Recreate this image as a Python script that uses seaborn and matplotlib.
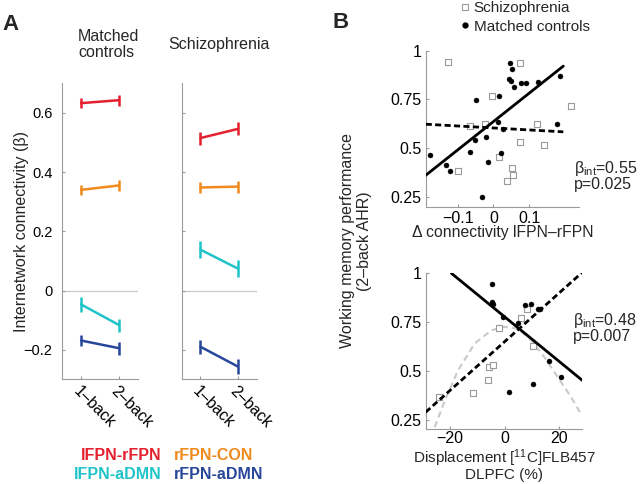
import numpy as np
import pandas as pd
import seaborn as sns
import matplotlib.pyplot as plt
from matplotlib.lines import Line2D

sns.set_theme(style='white')
plt.rcParams['font.family'] = ['Liberation Sans', 'DejaVu Sans']
plt.rcParams['mathtext.default'] = 'regular'

# ---- Panel A: conectividad entre redes (media +- error) ----
pares = ['lFPN-rFPN', 'rFPN-CON', 'lFPN-aDMN', 'rFPN-aDMN']
colores = ['#e4202f', '#f08a1c', '#1fc3c8', '#28479a']
cargas = ['1–back', '2–back']
ctrl_media = [[0.633, 0.643], [0.340, 0.355], [-0.047, -0.117], [-0.169, -0.195]]
ctrl_err = [[0.018, 0.018], [0.018, 0.018], [0.025, 0.022], [0.018, 0.022]]
scz_media = [[0.515, 0.546], [0.348, 0.351], [0.138, 0.074], [-0.190, -0.257]]
scz_err = [[0.022, 0.022], [0.020, 0.020], [0.028, 0.028], [0.024, 0.025]]

# ---- Panel B arriba: delta conectividad vs rendimiento ----
conn_scz_x = [-0.127, -0.098, -0.065, -0.025, -0.005, 0.017, 0.038, 0.051, 0.056,
              0.075, 0.075, 0.123, 0.142, 0.218]
conn_scz_y = [0.940, 0.384, 0.613, 0.624, 0.769, 0.455, 0.330, 0.399, 0.363,
              0.935, 0.531, 0.622, 0.514, 0.717]
conn_ctrl_x = [-0.178, -0.133, -0.121, -0.049, -0.065, -0.051, -0.021, -0.015, -0.031,
               0.016, 0.014, 0.021, 0.026, 0.047, 0.052, 0.045, 0.049, 0.058,
               0.077, 0.092, 0.124, 0.179, 0.187]
conn_ctrl_y = [0.466, 0.416, 0.385, 0.745, 0.481, 0.544, 0.558, 0.431, 0.248,
               0.767, 0.634, 0.473, 0.596, 0.935, 0.906, 0.853, 0.844, 0.812,
               0.836, 0.836, 0.838, 0.622, 0.870]
fit_conn_x = [-0.19, 0.196]
fit_conn_ctrl = [0.361, 0.921]
fit_conn_scz = [0.623, 0.584]

# ---- Panel B abajo: desplazamiento [11C]FLB457 vs rendimiento ----
disp_scz_x = [-24.1, -11.5, -5.9, -5.5, -4.2, -2.1, 5.9, 8.1, 10.5]
disp_scz_y = [0.367, 0.384, 0.455, 0.518, 0.532, 0.720, 0.772, 0.815, 0.626]
disp_ctrl_x = [-4.6, -4.5, -4.4, -0.6, 1.6, 4.8, 7.6, 9.6, 12.4, 13.0, 10.5, 16.4, 20.8]
disp_ctrl_y = [0.943, 0.851, 0.844, 0.774, 0.391, 0.746, 0.840, 0.842, 0.815, 0.815,
               0.434, 0.550, 0.468]
fit_disp_ctrl_x = [-19.4, 28.4]
fit_disp_ctrl_y = [1.0, 0.451]
fit_disp_scz_x = [-28.8, 28.4]
fit_disp_scz_y = [0.288, 1.005]
curva_x = [-25.5, -21.8, -17.0, -10.9, -4.8, 0.0, 4.8, 9.7, 14.5, 19.4, 24.3, 27.9]
curva_y = [0.211, 0.348, 0.502, 0.640, 0.708, 0.725, 0.717, 0.657, 0.571, 0.468, 0.365, 0.279]

fig = plt.figure(figsize=(6.4, 4.84), dpi=100)
W, H = 640, 484


def caja(x0, y0, x1, y1):
    # pixeles -> fraccion de figura
    return [x0 / W, 1 - y1 / H, (x1 - x0) / W, (y1 - y0) / H]


gris = '#9a9a9a'


def estilo_ejes(ax, size, pad=3):
    sns.despine(ax=ax)
    for s in ['left', 'bottom']:
        ax.spines[s].set_color(gris)
        ax.spines[s].set_linewidth(0.8)
    ax.tick_params(left=True, bottom=True, direction='in', length=2.5, width=0.8,
                   color=gris, labelsize=size, pad=pad, labelcolor='black')


def panel_a(ax, medias, errores):
    filas = []
    for par, m in zip(pares, medias):
        for k, v in enumerate(m):
            filas.append({'par': par, 'carga': k + 1, 'beta': v})
    df = pd.DataFrame(filas)
    ax.axhline(0, color='#c8c8c8', lw=0.9, zorder=0)
    sns.lineplot(data=df, x='carga', y='beta', hue='par', palette=colores,
                 hue_order=pares, legend=False, lw=1.8, ax=ax)
    for c, m, e in zip(colores, medias, errores):
        ax.errorbar([1, 2], m, yerr=e, fmt='none', ecolor=c, elinewidth=1.8, capsize=0)
    ax.set_xlim(0.5, 2.5)
    ax.set_ylim(-0.3, 0.7)
    ax.set_xticks([1, 2])
    ax.set_yticks([-0.2, 0, 0.2, 0.4, 0.6])
    ax.set_xlabel('')
    ax.set_ylabel('')
    estilo_ejes(ax, 10.5)
    ax.tick_params(axis='y', pad=7)
    ax.set_xticklabels(cargas, rotation=-45, ha='left', rotation_mode='anchor',
                       fontsize=11.5)


ax1 = fig.add_axes(caja(62, 83.3, 138.3, 379.3))
panel_a(ax1, ctrl_media, ctrl_err)
ax1.set_yticklabels(['−0.2', '0', '0.2', '0.4', '0.6'])

ax2 = fig.add_axes(caja(181.7, 83.3, 256.7, 379.3))
panel_a(ax2, scz_media, scz_err)
ax2.set_yticklabels([])

fig.text(2 / W, 1 - 25 / H, 'A', fontsize=16, fontweight='bold', va='center')
fig.text(78 / W, 1 - 44.5 / H, 'Matched\ncontrols', fontsize=11.5, va='center',
         linespacing=1.15)
fig.text(168 / W, 1 - 44 / H, 'Schizophrenia', fontsize=11.5, va='center')
fig.text(22 / W, 1 - 231 / H, 'Internetwork connectivity (β)', fontsize=11.5,
         rotation=90, ha='center', va='center')

# leyenda de colores
fig.text(161 / W, 1 - 455.7 / H, pares[0], color=colores[0], fontsize=11.5,
         fontweight='bold', ha='right', va='center')
fig.text(174 / W, 1 - 455.7 / H, pares[1], color=colores[1], fontsize=11.5,
         fontweight='bold', ha='left', va='center')
fig.text(162 / W, 1 - 474.3 / H, pares[2], color=colores[2], fontsize=11.5,
         fontweight='bold', ha='right', va='center')
fig.text(174 / W, 1 - 474.3 / H, pares[3], color=colores[3], fontsize=11.5,
         fontweight='bold', ha='left', va='center')

# ---- Panel B ----
lin_disc = (0, (2.2, 1.2))


def puntos(ax, xs, ys, xc, yc):
    sns.scatterplot(x=xs, y=ys, marker='s', s=16, facecolor='white', edgecolor=gris,
                    linewidth=0.8, ax=ax, zorder=2)
    sns.scatterplot(x=xc, y=yc, marker='o', s=13, color='black', edgecolor='black',
                    linewidth=0.3, ax=ax, zorder=3)


ax3 = fig.add_axes(caja(425.7, 50.7, 579, 206.7))
puntos(ax3, conn_scz_x, conn_scz_y, conn_ctrl_x, conn_ctrl_y)
sns.lineplot(x=fit_conn_x, y=fit_conn_ctrl, color='black', lw=2, ax=ax3, zorder=4)
sns.lineplot(x=fit_conn_x, y=fit_conn_scz, color='black', lw=2, linestyle=lin_disc,
             ax=ax3, zorder=4)
ax3.set_xlim(-0.19, 0.24)
ax3.set_ylim(0.2, 1.0)
ax3.set_xticks([-0.1, 0, 0.1])
ax3.set_xticklabels(['−0.1', '0', '0.1'])
ax3.set_yticks([0.25, 0.5, 0.75, 1])
ax3.set_yticklabels(['0.25', '0.5', '0.75', '1'])
ax3.set_xlabel('')
estilo_ejes(ax3, 11.5)
fig.text(503 / W, 1 - 233 / H, 'Δ connectivity lFPN–rFPN', fontsize=11.3,
         ha='center', va='center')
fig.text(574 / W, 1 - 168 / H, 'β$_{int}$=0.55', fontsize=11.5, va='center')
fig.text(574 / W, 1 - 185 / H, 'p=0.025', fontsize=11.5, va='center')

ax4 = fig.add_axes(caja(425.7, 273.3, 582.3, 429.3))
sns.lineplot(x=curva_x, y=curva_y, color='#c9c9c9', lw=1.5, linestyle=(0, (3, 2)),
             ax=ax4, zorder=1)
puntos(ax4, disp_scz_x, disp_scz_y, disp_ctrl_x, disp_ctrl_y)
sns.lineplot(x=fit_disp_ctrl_x, y=fit_disp_ctrl_y, color='black', lw=2, ax=ax4, zorder=4)
sns.lineplot(x=fit_disp_scz_x, y=fit_disp_scz_y, color='black', lw=2, linestyle=lin_disc,
             ax=ax4, zorder=4)
ax4.set_xlim(-28.8, 28.4)
ax4.set_ylim(0.2, 1.0)
ax4.set_xticks([-20, 0, 20])
ax4.set_xticklabels(['−20', '0', '20'])
ax4.set_yticks([0.25, 0.5, 0.75, 1])
ax4.set_yticklabels(['0.25', '0.5', '0.75', '1'])
ax4.set_xlabel('')
estilo_ejes(ax4, 11.5)
ax4.tick_params(axis='x', pad=1)
fig.text(504 / W, 1 - 458.5 / H, 'Displacement [$^{11}$C]FLB457', fontsize=11,
         ha='center', va='center')
fig.text(504 / W, 1 - 475.5 / H, 'DLPFC (%)', fontsize=11, ha='center', va='center')
fig.text(573 / W, 1 - 320 / H, 'β$_{int}$=0.48', fontsize=11.5, va='center')
fig.text(573 / W, 1 - 337 / H, 'p=0.007', fontsize=11.5, va='center')

fig.text(332 / W, 1 - 23 / H, 'B', fontsize=16, fontweight='bold', va='center')
fig.text(356 / W, 1 - 241 / H, 'Working memory performance\n(2–back AHR)',
         fontsize=11.5, rotation=90, ha='center', va='center', linespacing=1.1)

manejadores = [
    Line2D([], [], marker='s', ls='', mfc='white', mec=gris, mew=0.8, ms=4.5),
    Line2D([], [], marker='o', ls='', mfc='black', mec='black', ms=3.5),
]
fig.legend(manejadores, ['Schizophrenia', 'Matched controls'], loc='upper left',
           bbox_to_anchor=(447 / W, 1.02), frameon=False, fontsize=11,
           handletextpad=0.05, labelspacing=0.3, handlelength=1.0, borderpad=0.2)

plt.savefig('out.png', dpi=100)
